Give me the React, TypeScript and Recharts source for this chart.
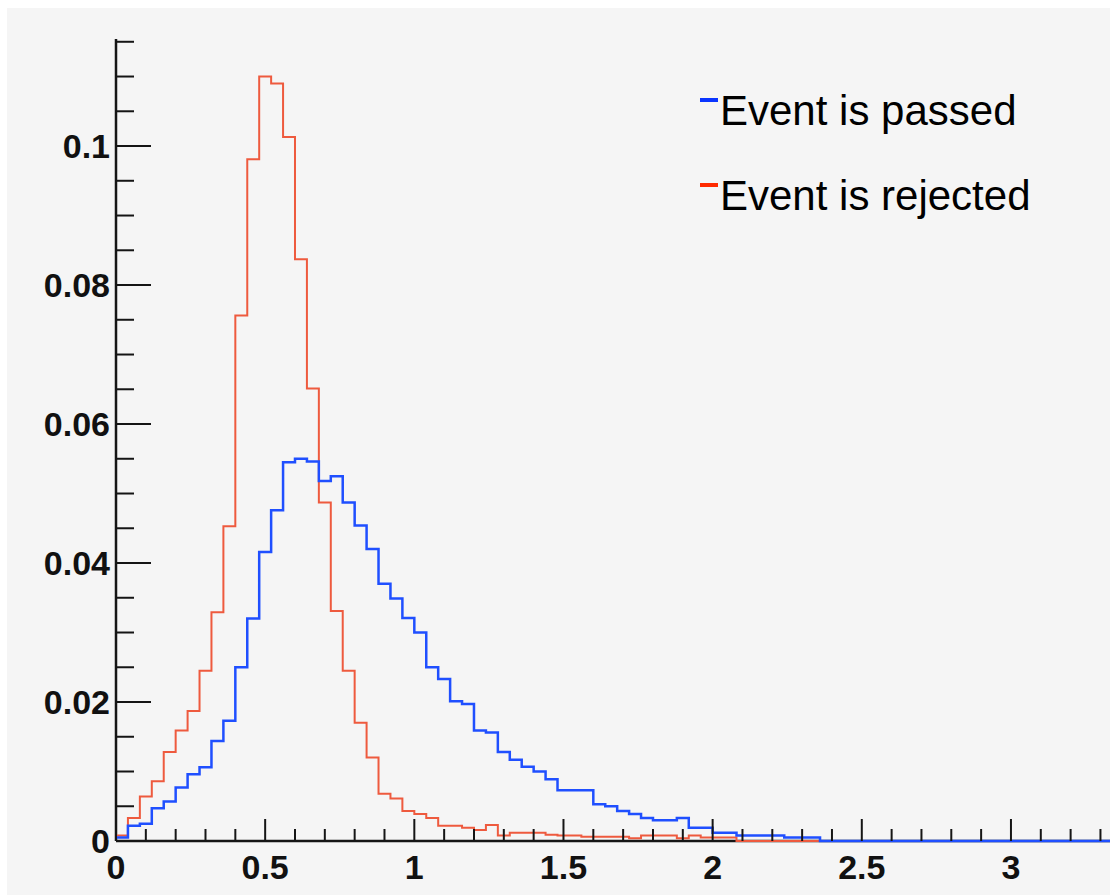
import { ComposedChart, Line, XAxis, YAxis } from "recharts";

// histogram bins, width 0.04 starting at 0 (only the bins inside the visible range)
const binWidth = 0.04;

const passed = [
  0.0005, 0.0022, 0.0025, 0.0047, 0.0057, 0.0077, 0.0096, 0.0106, 0.0144, 0.0173,
  0.025, 0.032, 0.0416, 0.0476, 0.0545, 0.055, 0.0546, 0.0518, 0.0525, 0.0487,
  0.0454, 0.042, 0.037, 0.0349, 0.0321, 0.03, 0.025, 0.0233, 0.0201, 0.0197,
  0.0159, 0.0156, 0.0128, 0.0117, 0.0107, 0.01, 0.0089, 0.0073, 0.0073, 0.0073,
  0.0053, 0.005, 0.0043, 0.0039, 0.0033, 0.003, 0.003, 0.0033, 0.0019, 0.0019,
  0.0012, 0.0012, 0.0008, 0.0008, 0.0008, 0.0008, 0.0005, 0.0005, 0.0005, 0,
  0, 0, 0, 0, 0, 0, 0, 0, 0, 0,
  0, 0, 0, 0, 0, 0, 0, 0, 0, 0,
  0, 0, 0, 0
];

const rejected = [
  0.0008, 0.0033, 0.0064, 0.0086, 0.0128, 0.0159, 0.0187, 0.0245, 0.0329, 0.0453,
  0.0756, 0.0981, 0.11, 0.109, 0.1013, 0.0837, 0.0651, 0.0487, 0.0331, 0.0245,
  0.017, 0.012, 0.0068, 0.0061, 0.0043, 0.0039, 0.0033, 0.0022, 0.0022, 0.0019,
  0.0016, 0.0023, 0.0008, 0.0012, 0.0012, 0.0012, 0.0009, 0.0008, 0.0008, 0.0006,
  0.0006, 0.0006, 0.0006, 0.0004, 0.0008, 0.0008, 0.0008, 0.0004, 0.0008, 0.0005,
  0.0005, 0.0005, 0, 0, 0, 0, 0, 0, 0, 0,
  0, 0, 0, 0, 0, 0, 0, 0, 0, 0,
  0, 0, 0, 0, 0, 0, 0, 0, 0, 0,
  0, 0, 0, 0
];

const xMajorTicks = [0, 0.5, 1, 1.5, 2, 2.5, 3];
const xLabels = ["0", "0.5", "1", "1.5", "2", "2.5", "3"];
const yMajorTicks = [0, 0.02, 0.04, 0.06, 0.08, 0.1];
const yLabels = ["0", "0.02", "0.04", "0.06", "0.08", "0.1"];

const seriesNames = ["Event is passed", "Event is rejected"];
const seriesColors = ["#1f4fff", "#ee5a3e"];
const markerColors = ["#0a35ff", "#ff2a00"];

const xMax = 3.332;
const yMax = 0.1154;

// stepAfter needs a closing point; the last bin is cut at the right edge of the frame
const data = passed.map((p, i) => ({ x: i * binWidth, passed: p, rejected: rejected[i] }));
data.push({
  x: xMax,
  passed: passed[passed.length - 1],
  rejected: rejected[rejected.length - 1]
});

const xTicks: number[] = [];
for (let i = 0; i <= 33; i++) xTicks.push(i / 10);
const yTicks: number[] = [];
for (let i = 0; i <= 23; i++) yTicks.push(i * 5 / 1000);

const near = (a: number, b: number) => Math.abs(a - b) < 1e-6;
const axisColor = "#151515";
const labelFont = "'Liberation Sans', Arial, sans-serif";

const XTick = (props: any) => {
  const { x, y, payload } = props;
  const idx = xMajorTicks.findIndex((t) => near(t, payload.value));
  const major = idx >= 0;
  return (
    <g>
      <line x1={x} x2={x} y1={y} y2={y - (major ? 22 : 12)} stroke={axisColor} strokeWidth={2} />
      {major &&
      <text x={x} y={y + 38} textAnchor="middle" fontFamily={labelFont} fontWeight="bold" fontSize={34} fill="#111">
          {xLabels[idx]}
        </text>}
    </g>);
};

const YTick = (props: any) => {
  const { x, y, payload } = props;
  const idx = yMajorTicks.findIndex((t) => near(t, payload.value));
  const major = idx >= 0;
  return (
    <g>
      <line x1={x} x2={x + (major ? 35 : 18)} y1={y} y2={y} stroke={axisColor} strokeWidth={2} />
      {major &&
      <text x={x - 6} y={y + 12} textAnchor="end" fontFamily={labelFont} fontWeight="bold" fontSize={34} fill="#111">
          {yLabels[idx]}
        </text>}
    </g>);
};

export default function App() {
  return (
    <div style={{ position: "absolute", left: 0, top: 0, width: 1110, height: 895, background: "#fff", overflow: "hidden" }}>
      <div style={{ position: "absolute", left: 7, top: 8, right: 0, bottom: 0, background: "#f5f5f5" }} />
      <div style={{ position: "absolute", left: 0, top: 0 }}>
        <ComposedChart width={1110} height={895} data={data} margin={{ top: 39, right: 0, left: 0, bottom: 0 }}>
          <XAxis
            dataKey="x"
            type="number"
            domain={[0, xMax]}
            ticks={xTicks}
            interval={0}
            height={54}
            tickSize={0}
            tickMargin={0}
            tickLine={false}
            axisLine={{ stroke: axisColor, strokeWidth: 2.5 }}
            tick={<XTick />} />
          <XAxis
            xAxisId="top"
            orientation="top"
            dataKey="x"
            type="number"
            domain={[0, xMax]}
            height={0}
            tick={false}
            tickLine={false}
            axisLine={{ stroke: axisColor, strokeWidth: 2 }} />
          <YAxis
            type="number"
            domain={[0, yMax]}
            ticks={yTicks}
            interval={0}
            width={116}
            tickSize={0}
            tickMargin={0}
            tickLine={false}
            axisLine={{ stroke: axisColor, strokeWidth: 2.5 }}
            tick={<YTick />} />
          <Line
            type="stepAfter"
            dataKey="rejected"
            stroke={seriesColors[1]}
            strokeWidth={2}
            dot={false}
            activeDot={false}
            zIndex={600}
            isAnimationActive={false} />
          <Line
            type="stepAfter"
            dataKey="passed"
            stroke={seriesColors[0]}
            strokeWidth={2.5}
            dot={false}
            activeDot={false}
            zIndex={610}
            isAnimationActive={false} />
        </ComposedChart>
      </div>
      <div style={{ position: "absolute", left: 700, top: 68, fontFamily: labelFont, fontSize: 42, color: "#000" }}>
        {seriesNames.map((name, i) =>
        <div key={name} style={{ position: "relative", height: 85, lineHeight: "85px", paddingLeft: 20, whiteSpace: "nowrap" }}>
            <span style={{ position: "absolute", left: 0, top: 30, width: 18, height: 4, background: markerColors[i] }} />
            {name}
          </div>
        )}
      </div>
    </div>);
}
